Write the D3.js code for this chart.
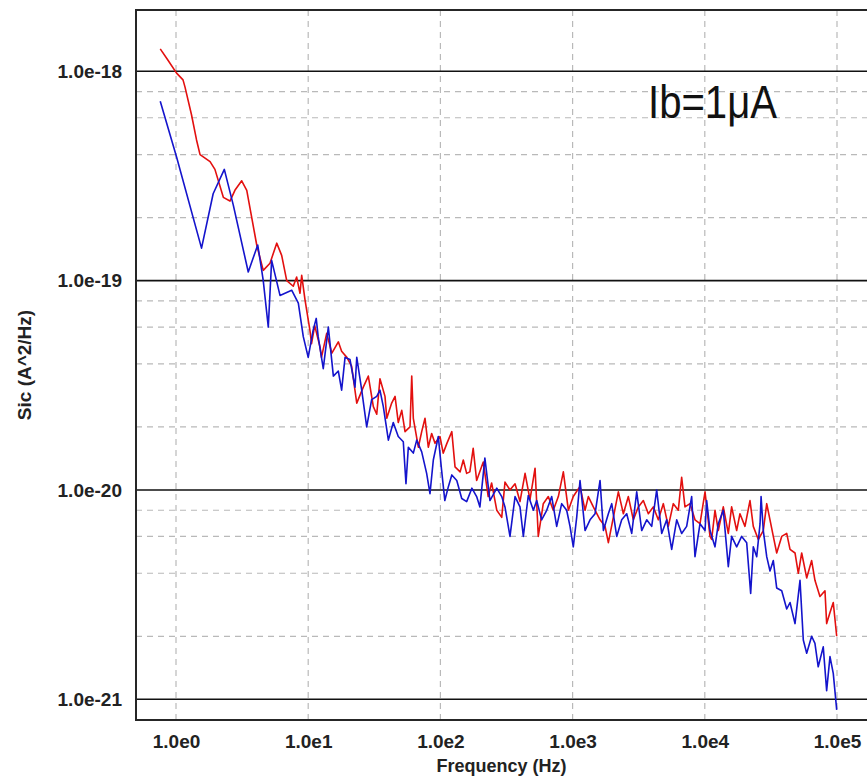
<!DOCTYPE html>
<html><head><meta charset="utf-8">
<script src="https://cdn.jsdelivr.net/npm/d3@7"></script>
<style>body{margin:0;background:#fff} svg{display:block}</style>
</head><body><svg id="c" width="867" height="778"></svg>
<script>
// ---------- data ----------
const freqRed = [0.76,0.87,1.01,1.13,1.17,1.31,1.43,1.52,1.81,1.97,2.28,2.56,2.79,3.14,3.43,3.74,4.08,4.57,5.14,5.78,6.30,6.88,7.71,8.18,8.67,8.93,9.46,10.3,10.6,11.2,12.3,12.6,13.8,15.1,16.9,17.9,19.6,21.3,23.3,26.1,28.5,31.1,33.0,34.9,38.1,39.3,42.8,45.4,48.0,51.0,54.0,58.9,60.7,62.4,68.1,72.2,76.5,81.0,85.9,91.0,99.3,105,112,122,129,141,149,158,167,177,188,211,230,244,267,291,308,336,367,400,437,476,520,550,600,655,714,780,851,929,1012,1138,1242,1315,1435,1613,1760,1864,2033,2219,2421,2640,2880,3142,3428,3740,4080,4450,4855,5296,5777,6303,6683,7080,7730,8430,9200,10040,10950,11270,11940,12650,13800,15060,15960,17420,18450,20130,21970,23270,25400,27700,29400,31130,32980,34990,38180,41650,44130,48130,50980,54070,58990,64300,68100,74300,81100,83500,88500,93700,99500];
const sicRed = [1.28e-18,1.13e-18,9.8e-19,9.1e-19,8.4e-19,6.2e-19,4.7e-19,4.0e-19,3.7e-19,3.4e-19,2.5e-19,2.4e-19,2.7e-19,3.0e-19,2.7e-19,2.0e-19,1.48e-19,1.12e-19,1.21e-19,1.51e-19,1.32e-19,1.0e-19,9.4e-20,1.04e-19,8.7e-20,1.06e-19,8.1e-20,5.8e-20,5.0e-20,6.1e-20,4.8e-20,4.3e-20,5.6e-20,4.5e-20,5.1e-20,4.6e-20,4.3e-20,3.9e-20,2.6e-20,3.1e-20,3.5e-20,2.5e-20,2.3e-20,3.4e-20,2.8e-20,2.2e-20,2.6e-20,2.8e-20,2.1e-20,2.4e-20,1.9e-20,2.0e-20,3.5e-20,2.2e-20,1.6e-20,1.9e-20,2.2e-20,1.6e-20,1.86e-20,1.67e-20,1.8e-20,1.5e-20,1.67e-20,1.9e-20,1.29e-20,1.22e-20,1.39e-20,1.2e-20,1.22e-20,1.58e-20,1.11e-20,1.36e-20,9.3e-21,1.08e-20,8.0e-21,7.4e-21,1.09e-20,1.0e-20,1.07e-20,8.8e-21,1.2e-20,9.0e-21,1.27e-20,6.0e-21,8.6e-21,9.3e-21,8.0e-21,9.3e-21,1.22e-20,8.0e-21,9.3e-21,1.04e-20,8.0e-21,9.3e-21,8.3e-21,7.2e-21,6.7e-21,5.6e-21,7.4e-21,9.8e-21,7.7e-21,9.3e-21,7.2e-21,8.3e-21,8.9e-21,7.7e-21,8.3e-21,7.2e-21,8.6e-21,6.7e-21,8.6e-21,8.0e-21,1.15e-20,8.3e-21,8.6e-21,7.2e-21,6.9e-21,9.8e-21,6.0e-21,5.8e-21,8.0e-21,6.4e-21,8.3e-21,6.2e-21,8.3e-21,6.4e-21,7.7e-21,6.7e-21,8.9e-21,6.7e-21,5.8e-21,6.4e-21,8.6e-21,7.2e-21,6.0e-21,5.0e-21,6.0e-21,6.2e-21,5.2e-21,5.0e-21,4.0e-21,5.0e-21,3.8e-21,4.6e-21,3.7e-21,3.1e-21,3.3e-21,2.3e-21,2.6e-21,2.9e-21,2.0e-21];
const freqBlue = [0.76,1.01,1.56,1.91,2.32,2.71,3.52,4.15,4.45,4.57,4.99,5.29,6.12,7.50,8.18,8.42,9.18,10.0,10.9,11.5,11.9,13.0,14.2,15.5,16.9,17.9,19.0,20.7,22.6,23.3,25.4,27.7,30.2,33.0,34.9,37.0,40.4,44.0,48.0,52.4,54.9,57.2,62.4,66.2,72.2,78.7,83.4,88.4,96.4,102,108,115,122,133,145,158,173,188,199,217,237,267,291,308,336,367,400,424,462,505,535,583,637,695,758,827,902,956,1012,1074,1138,1242,1355,1479,1613,1710,1864,1977,2157,2352,2566,2800,3055,3333,3636,3966,4327,4721,5150,5618,6130,6683,7290,7955,8430,9200,10040,10330,10950,11940,12650,13800,15060,15960,17420,19000,20740,22230,23270,24700,26180,26650,27700,29400,31130,32980,34990,38180,41650,44130,48130,52500,55600,58990,64300,68100,72100,78700,83500,88500,93700,99500];
const sicBlue = [7.2e-19,3.9e-19,1.43e-19,2.6e-19,3.4e-19,2.3e-19,1.1e-19,1.48e-19,1.12e-19,1.0e-19,6.0e-20,1.25e-19,8.5e-20,9.0e-20,8.1e-20,7.8e-20,5.4e-20,4.3e-20,5.8e-20,6.6e-20,5.4e-20,3.8e-20,6.0e-20,3.5e-20,3.7e-20,3.0e-20,4.3e-20,4.2e-20,3.1e-20,4.3e-20,3.0e-20,2.0e-20,2.7e-20,2.8e-20,3.0e-20,2.5e-20,1.73e-20,2.1e-20,1.8e-20,1.7e-20,1.07e-20,1.6e-20,1.5e-20,1.73e-20,1.52e-20,1.2e-20,9.6e-21,1.39e-20,1.8e-20,1.25e-20,8.9e-21,1.04e-20,1.18e-20,1.11e-20,9.1e-21,8.8e-21,1.02e-20,9.3e-21,8.3e-21,1.42e-20,8.9e-21,1.02e-20,9.3e-21,8.3e-21,6.0e-21,9.3e-21,8.3e-21,6.0e-21,9.4e-21,8.0e-21,8.9e-21,7.2e-21,8.0e-21,9.3e-21,6.7e-21,8.6e-21,8.0e-21,6.7e-21,5.35e-21,7.4e-21,1.11e-20,6.4e-21,7.2e-21,7.7e-21,1.11e-20,6.4e-21,7.7e-21,8.6e-21,6.0e-21,7.2e-21,7.7e-21,6.2e-21,9.8e-21,6.4e-21,7.2e-21,6.7e-21,1.0e-20,6.2e-21,7.2e-21,5.2e-21,7.2e-21,6.2e-21,6.7e-21,9.3e-21,4.8e-21,6.9e-21,6.4e-21,8.9e-21,6.4e-21,5.35e-21,6.9e-21,8.0e-21,4.3e-21,6.0e-21,5.35e-21,6.0e-21,5.6e-21,3.2e-21,5.35e-21,4.8e-21,6.9e-21,9.3e-21,6.4e-21,4.8e-21,4.1e-21,4.6e-21,3.4e-21,3.3e-21,2.7e-21,2.9e-21,2.3e-21,3.7e-21,1.92e-21,1.66e-21,2.0e-21,1.85e-21,1.43e-21,1.78e-21,1.1e-21,1.6e-21,1.33e-21,8.9e-22];
const xTickValues = [1,10,100,1000,10000,100000];
const xTickLabels = ["1.0e0","1.0e1","1.0e2","1.0e3","1.0e4","1.0e5"];
const yTickValues = [1e-18,1e-19,1e-20,1e-21];
const yTickLabels = ["1.0e-18","1.0e-19","1.0e-20","1.0e-21"];
const yMinorMantissas = [8,6,4,2];
const xTitle = "Frequency (Hz)";
const yTitle = "Sic (A^2/Hz)";
const noteText = "Ib=1μA";

// ---------- layout ----------
const W = 867, H = 778;
const P = {left:136, top:10, right:875, bottom:720};
const x = d3.scaleLog().domain([1,1e5]).range([176,837]);
const y = d3.scaleLog().domain([1e-18,1e-21]).range([71.3,699.3]);

const svg = d3.select("#c");
svg.append("rect").attr("width",W).attr("height",H).attr("fill","#fff");

svg.append("defs").append("clipPath").attr("id","clip")
  .append("rect").attr("x",P.left).attr("y",P.top)
  .attr("width",P.right-P.left).attr("height",P.bottom-P.top);

// minor y gridlines (dashed)
const yMinor = [];
[-22,-21,-20,-19,-18].forEach(e => yMinorMantissas.forEach(m => {
  const v = m*Math.pow(10,e);
  const py = y(v);
  if (py > P.top+1 && py < P.bottom-1) yMinor.push(v);
}));
const grid = svg.append("g");
grid.selectAll("line.ym").data(yMinor).join("line")
  .attr("x1",P.left).attr("x2",P.right)
  .attr("y1",d=>y(d)).attr("y2",d=>y(d))
  .attr("stroke","#b9b9b9").attr("stroke-width",1.2).attr("stroke-dasharray","6,5");
grid.selectAll("line.xv").data(xTickValues).join("line")
  .attr("y1",P.top).attr("y2",P.bottom)
  .attr("x1",d=>x(d)).attr("x2",d=>x(d))
  .attr("stroke","#b9b9b9").attr("stroke-width",1.2).attr("stroke-dasharray","6,5");
// major y gridlines (solid)
grid.selectAll("line.yM").data(yTickValues).join("line")
  .attr("x1",P.left).attr("x2",P.right)
  .attr("y1",d=>y(d)).attr("y2",d=>y(d))
  .attr("stroke","#111").attr("stroke-width",1.6);

// series
const line = d3.line().x(d=>x(d[0])).y(d=>y(d[1]));
const gData = svg.append("g").attr("clip-path","url(#clip)");
gData.append("path").datum(freqRed.map((f,i)=>[f,sicRed[i]]))
  .attr("d",line).attr("fill","none").attr("stroke","#e3100f").attr("stroke-width",1.6)
  .attr("stroke-linejoin","round");
gData.append("path").datum(freqBlue.map((f,i)=>[f,sicBlue[i]]))
  .attr("d",line).attr("fill","none").attr("stroke","#1414cc").attr("stroke-width",1.6)
  .attr("stroke-linejoin","round");

// frame
svg.append("rect").attr("x",P.left).attr("y",P.top)
  .attr("width",P.right-P.left).attr("height",P.bottom-P.top)
  .attr("fill","none").attr("stroke","#262626").attr("stroke-width",2);

// axes
const fontFam = "Arial, 'Liberation Sans', sans-serif";
const xAxis = d3.axisBottom(x).tickValues(xTickValues)
  .tickFormat((d,i)=>xTickLabels[i]).tickSize(0).tickPadding(15);
const gx = svg.append("g").attr("transform",`translate(0,${P.bottom})`).call(xAxis);
gx.select(".domain").remove();
gx.selectAll("text").attr("font-family",fontFam).attr("font-size",19)
  .attr("font-weight","bold").attr("fill","#222");

const yAxis = d3.axisLeft(y).tickValues(yTickValues)
  .tickFormat((d,i)=>yTickLabels[i]).tickSize(0).tickPadding(14);
const gy = svg.append("g").attr("transform",`translate(${P.left},0)`).call(yAxis);
gy.select(".domain").remove();
gy.selectAll("text").attr("font-family",fontFam).attr("font-size",19)
  .attr("font-weight","bold").attr("fill","#222");

// titles
svg.append("text").attr("x",(P.left+867)/2).attr("y",772)
  .attr("text-anchor","middle").attr("font-family",fontFam).attr("font-size",18)
  .attr("font-weight","bold").attr("fill","#222").text(xTitle);
svg.append("text").attr("transform",`translate(31,${(P.top+P.bottom)/2}) rotate(-90)`)
  .attr("text-anchor","middle").attr("font-family",fontFam).attr("font-size",19)
  .attr("font-weight","bold").attr("fill","#222").text(yTitle);

// annotation
svg.append("text").attr("x",648).attr("y",118)
  .attr("font-family",fontFam).attr("font-size",47).attr("fill","#111")
  .attr("textLength",129).attr("lengthAdjust","spacingAndGlyphs").text(noteText);
</script></body></html>
